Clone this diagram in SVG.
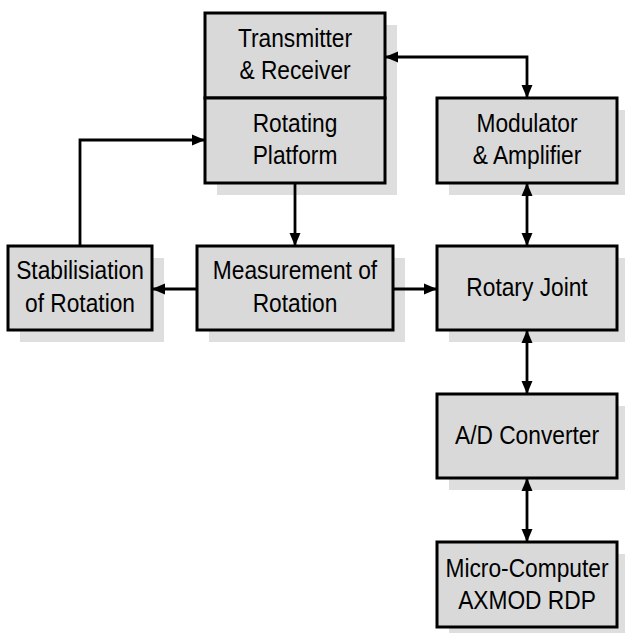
<svg xmlns="http://www.w3.org/2000/svg" width="625" height="633" viewBox="0 0 625 633">
<style>
.shadow{fill:#dedede;stroke:none}
.box{fill:#d9d9d9;stroke:#000;stroke-width:3}
.t{font-family:"Liberation Sans",Arial,sans-serif;font-size:25px;fill:#000;text-anchor:middle}
.c{fill:none;stroke:#000;stroke-width:2.8}
</style>
<defs>
<marker id="ah" markerUnits="userSpaceOnUse" markerWidth="14" markerHeight="12" refX="13" refY="6" orient="auto-start-reverse">
<path d="M0,0.5 L13,6 L0,11.5 Z" fill="#000"/>
</marker>
</defs>
<rect width="625" height="633" fill="#fff"/>
<g id="shadows">
<rect class="shadow" x="217" y="25" width="180" height="170"/>
<rect class="shadow" x="449" y="110" width="180" height="85"/>
<rect class="shadow" x="20" y="258" width="144" height="84"/>
<rect class="shadow" x="209" y="258" width="196" height="84"/>
<rect class="shadow" x="449" y="258" width="180" height="84"/>
<rect class="shadow" x="449" y="406" width="180" height="84"/>
<rect class="shadow" x="449" y="554" width="180" height="85"/>
</g>
<g id="connectors">
<path class="c" d="M385,57 L527,57 L527,98" marker-start="url(#ah)" marker-end="url(#ah)"/>
<path class="c" d="M527,183 L527,246" marker-start="url(#ah)" marker-end="url(#ah)"/>
<path class="c" d="M527,330 L527,394" marker-start="url(#ah)" marker-end="url(#ah)"/>
<path class="c" d="M527,478 L527,542" marker-start="url(#ah)" marker-end="url(#ah)"/>
<path class="c" d="M295,183 L295,246" marker-end="url(#ah)"/>
<path class="c" d="M197,289 L152,289" marker-end="url(#ah)"/>
<path class="c" d="M393,289 L437,289" marker-end="url(#ah)"/>
<path class="c" d="M80,246 L80,140 L205,140" marker-end="url(#ah)"/>
</g>
<g id="transmitter-receiver">
<rect class="box" x="205" y="13" width="180" height="85"/>
<text class="t" transform="translate(295,47) scale(0.91,1)">Transmitter</text>
<text class="t" transform="translate(295,79) scale(0.91,1)">&amp; Receiver</text>
</g>
<g id="rotating-platform">
<rect class="box" x="205" y="98" width="180" height="85"/>
<text class="t" transform="translate(295,132) scale(0.91,1)">Rotating</text>
<text class="t" transform="translate(295,164) scale(0.91,1)">Platform</text>
</g>
<g id="modulator-amplifier">
<rect class="box" x="437" y="98" width="180" height="85"/>
<text class="t" transform="translate(527,132) scale(0.91,1)">Modulator</text>
<text class="t" transform="translate(527,164) scale(0.91,1)">&amp; Amplifier</text>
</g>
<g id="stabilisiation">
<rect class="box" x="8" y="246" width="144" height="84"/>
<text class="t" transform="translate(80,279) scale(0.91,1)">Stabilisiation</text>
<text class="t" transform="translate(80,312) scale(0.91,1)">of Rotation</text>
</g>
<g id="measurement">
<rect class="box" x="197" y="246" width="196" height="84"/>
<text class="t" transform="translate(295,279) scale(0.91,1)">Measurement of</text>
<text class="t" transform="translate(295,312) scale(0.91,1)">Rotation</text>
</g>
<g id="rotary-joint">
<rect class="box" x="437" y="246" width="180" height="84"/>
<text class="t" transform="translate(527,296) scale(0.91,1)">Rotary Joint</text>
</g>
<g id="ad-converter">
<rect class="box" x="437" y="394" width="180" height="84"/>
<text class="t" transform="translate(527,444) scale(0.91,1)">A/D Converter</text>
</g>
<g id="micro-computer">
<rect class="box" x="437" y="542" width="180" height="85"/>
<text class="t" transform="translate(527,577) scale(0.91,1)">Micro-Computer</text>
<text class="t" transform="translate(527,609) scale(0.91,1)">AXMOD RDP</text>
</g>
</svg>
